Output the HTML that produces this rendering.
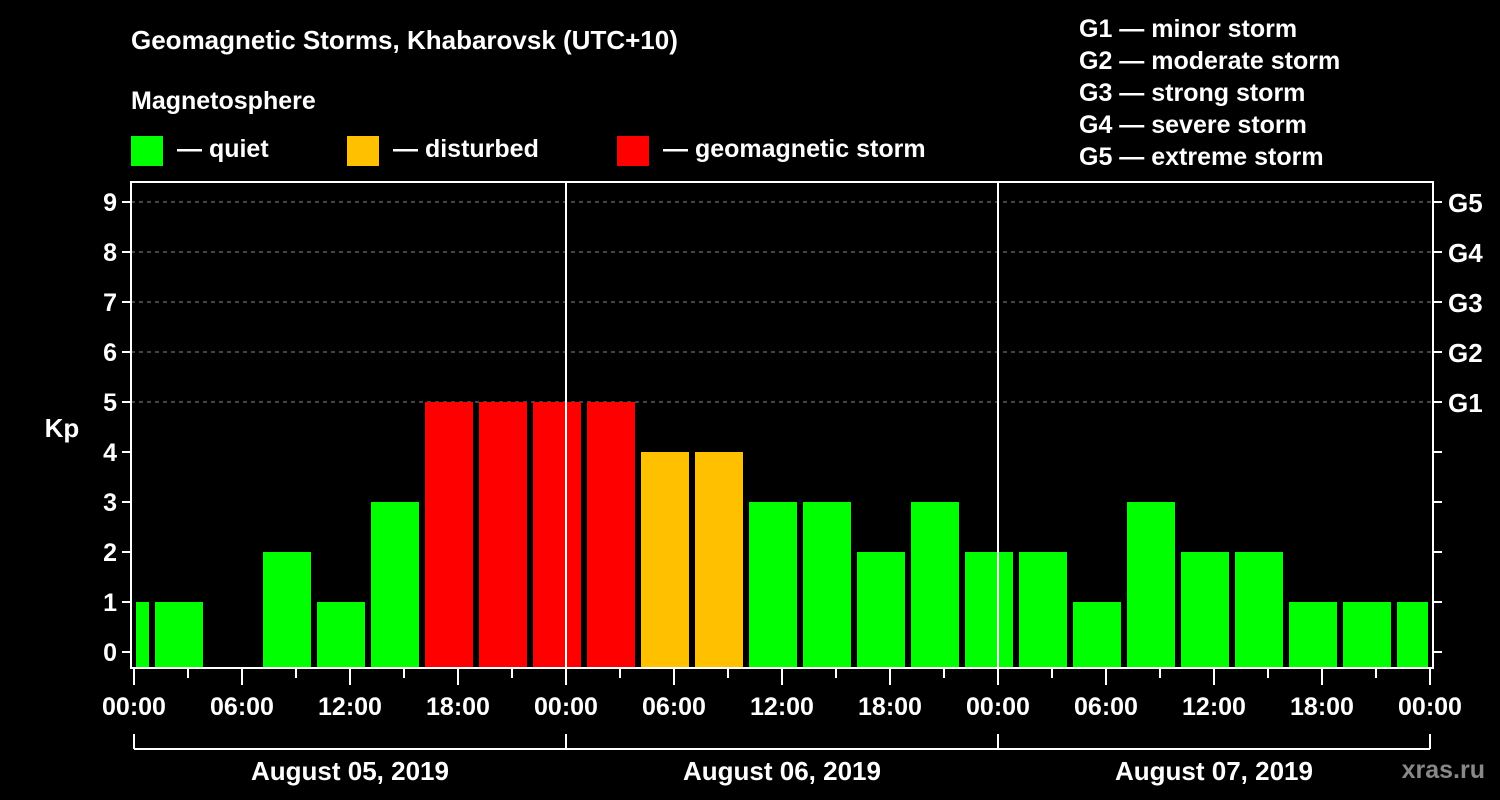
<!DOCTYPE html>
<html><head><meta charset="utf-8"><style>
html,body{margin:0;padding:0;background:#000;}
svg{display:block;font-family:"Liberation Sans",Arial,sans-serif;font-weight:bold;}
</style></head><body>
<svg id="c" width="1500" height="800" viewBox="0 0 1500 800">
<rect width="1500" height="800" fill="#000"/>
<text x="131" y="49" fill="#fff" font-size="26">Geomagnetic Storms, Khabarovsk (UTC+10)</text>
<text x="131" y="109" fill="#fff" font-size="25">Magnetosphere</text>
<g><rect x="131" y="136" width="32" height="30" fill="#00ff00"/><text x="177" y="157" fill="#fff" font-size="25">— quiet</text></g>
<g><rect x="347" y="136" width="32" height="30" fill="#ffc000"/><text x="393" y="157" fill="#fff" font-size="25">— disturbed</text></g>
<g><rect x="617" y="136" width="32" height="30" fill="#ff0000"/><text x="663" y="157" fill="#fff" font-size="25">— geomagnetic storm</text></g>
<g fill="#fff" font-size="25">
<text x="1079" y="37">G1 — minor storm</text>
<text x="1079" y="69">G2 — moderate storm</text>
<text x="1079" y="101">G3 — strong storm</text>
<text x="1079" y="133">G4 — severe storm</text>
<text x="1079" y="165">G5 — extreme storm</text>
</g>
<text x="62" y="437" fill="#fff" font-size="26" text-anchor="middle">Kp</text>
<g id="grid"></g><g id="bars"></g><g id="axes"></g>
<text x="1485" y="778" fill="#888" font-size="25" text-anchor="end">xras.ru</text>
</svg>
<script>
const kpValues=[1,1,0,2,1,3,5,5,5,5,4,4,3,3,2,3,2,2,1,3,2,2,1,1,1];
const binStartHours=[-2,1,4,7,10,13,16,19,22,25,28,31,34,37,40,43,46,49,52,55,58,61,64,67,70];
const yTicks=[0,1,2,3,4,5,6,7,8,9];
const gLabels=["G1","G2","G3","G4","G5"];
const gLevels=[5,6,7,8,9];
const xTickLabels=["00:00","06:00","12:00","18:00","00:00","06:00","12:00","18:00","00:00","06:00","12:00","18:00","00:00"];
const dayLabels=["August 05, 2019","August 06, 2019","August 07, 2019"];
const NS="http://www.w3.org/2000/svg";
const X0=134,PXH=18,L=131,R=1433,T=182,B=668;
const x=h=>X0+h*PXH;
const y=k=>652-k*50;
function mk(tag,attrs,parent){const e=document.createElementNS(NS,tag);for(const k in attrs)e.setAttribute(k,attrs[k]);parent.appendChild(e);return e;}
const grid=document.getElementById('grid'),bars=document.getElementById('bars'),axes=document.getElementById('axes');
gLevels.forEach(k=>{const l=mk('line',{x1:L,x2:R,y1:y(k),y2:y(k),stroke:'#888','stroke-dasharray':'4,4','stroke-width':1},grid);

});
kpValues.forEach((v,i)=>{if(v<=0)return;
let x1=Math.max(x(binStartHours[i])+3,L+5),x2=Math.min(x(binStartHours[i]+3)-3,R-5);
const c=v>=5?'#ff0000':(v>=4?'#ffc000':'#00ff00');
const r=mk('rect',{x:x1,y:y(v),width:x2-x1,height:B-1-y(v),fill:c},bars);

});
[1,2].forEach(d=>{const l=mk('line',{x1:x(24*d),x2:x(24*d),y1:T,y2:B,stroke:'#fff','stroke-width':2},axes);

});
const fr=mk('rect',{x:L,y:T,width:R-L,height:B-T,fill:'none',stroke:'#fff','stroke-width':2},axes);


yTicks.forEach(k=>{mk('line',{x1:L-9,x2:L,y1:y(k),y2:y(k),stroke:'#fff','stroke-width':2},axes);
mk('line',{x1:R,x2:R+9,y1:y(k),y2:y(k),stroke:'#fff','stroke-width':2},axes);
const t=mk('text',{x:L-14,y:y(k)+9,fill:'#fff','font-size':25,'text-anchor':'end'},axes);t.textContent=k;

});
gLevels.forEach((k,i)=>{const t=mk('text',{x:1448,y:y(k)+10,fill:'#fff','font-size':26},axes);t.textContent=gLabels[i];

});
for(let h=0;h<=72;h+=3){const major=h%6===0;mk('line',{x1:x(h),x2:x(h),y1:B,y2:major?685:678,stroke:'#fff','stroke-width':2},axes);}
xTickLabels.forEach((s,i)=>{const t=mk('text',{x:x(i*6),y:715,fill:'#fff','font-size':25,'text-anchor':'middle'},axes);t.textContent=s;

});
mk('line',{x1:x(0),x2:x(72),y1:749,y2:749,stroke:'#fff','stroke-width':2},axes);
for(let d=0;d<=3;d++)mk('line',{x1:x(24*d),x2:x(24*d),y1:734,y2:749,stroke:'#fff','stroke-width':2},axes);
dayLabels.forEach((s,i)=>{const t=mk('text',{x:x(24*i+12),y:780,fill:'#fff','font-size':26,'text-anchor':'middle'},axes);t.textContent=s;

});
</script>
</body></html>
